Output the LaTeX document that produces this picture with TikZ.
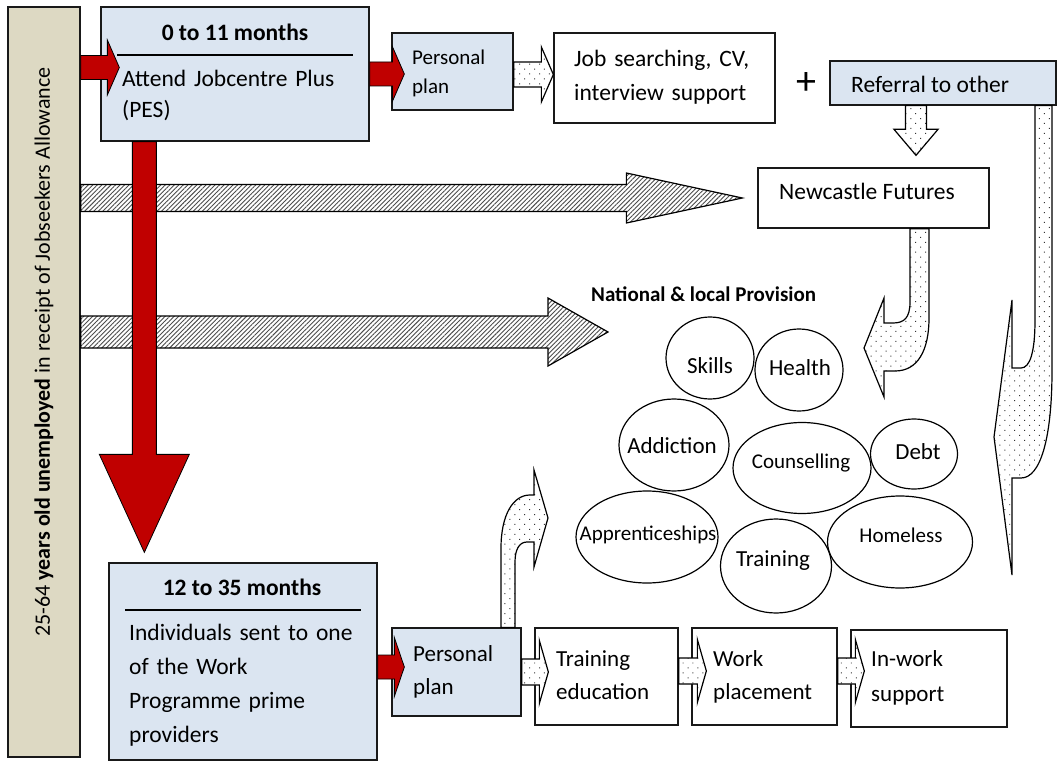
\documentclass[tikz,border=0pt]{standalone}
\usepackage{fontspec}
\setmainfont{Carlito}
\usetikzlibrary{calc,patterns.meta,shapes.geometric}
\definecolor{barfill}{HTML}{DDD9C3}
\definecolor{boxblue}{HTML}{DBE5F1}
\definecolor{arrowred}{HTML}{C00000}
\newcommand{\fsz}[2]{\fontsize{#1}{#2}\selectfont}
% right-pointing block arrow: style, start, tip, shaft half, head half, head length
\newcommand{\blockR}[6]{\path[#1] let \p1=(#2), \p2=(#3) in
  (\x1,\y2+#4) -- (\x2-#6,\y2+#4) -- (\x2-#6,\y2+#5) -- (\x2,\y2) -- (\x2-#6,\y2-#5) -- (\x2-#6,\y2-#4) -- (\x1,\y2-#4) -- cycle;}
% down-pointing block arrow
\newcommand{\blockD}[6]{\path[#1] let \p1=(#2), \p2=(#3) in
  (\x2-#4,\y1) -- (\x2-#4,\y2+#6) -- (\x2-#5,\y2+#6) -- (\x2,\y2) -- (\x2+#5,\y2+#6) -- (\x2+#4,\y2+#6) -- (\x2+#4,\y1) -- cycle;}
\begin{document}
\begin{tikzpicture}[x=1pt,y=-1pt,
  box/.style={draw=black!90, line width=1.3pt, inner sep=0pt, fill=white},
  bluebox/.style={box, fill=boxblue},
  txt/.style={anchor=base west, inner sep=0pt, align=left, font=\fsz{23.5}{34}},
  ttl/.style={anchor=base, inner sep=0pt, font=\fsz{23.5}{28}\bfseries},
  oval/.style={draw=black, ellipse, line width=1.2pt, inner sep=0pt},
  ovaltxt/.style={inner sep=0pt, font=\fsz{23}{26}},
  ovalsmall/.style={inner sep=0pt, font=\fsz{21}{24}},
  hatch/.style={draw=black, line width=1.2pt, preaction={fill=white},
    pattern={Lines[angle=45,distance=3.2pt,line width=0.9pt]}, pattern color=black!70},
  dotarr/.style={draw=black, line width=1.2pt, preaction={fill=white},
    pattern={Dots[distance=7pt,angle=45,radius=0.7pt]}, pattern color=black!80},
  redarr/.style={draw=black, line width=0.8pt, fill=arrowred},
  rule/.style={line width=1.5pt}
]
\useasboundingbox (0,0) rectangle (1062,762);

% left bar
\node[draw=black!90, line width=1.3pt, fill=barfill, minimum width=72pt, minimum height=750pt, inner sep=0pt] (bar) at (44,382) {};
\node[rotate=90, inner sep=0pt, font=\fsz{22}{26}] (bartext) at (44,352) {25-64 \textbf{years old unemployed} in receipt of Jobseekers Allowance};

% top row
\node[bluebox, minimum width=268pt, minimum height=134pt] (box1) at (235,74) {};
\node[ttl] (box1title) at (235,41) {0 to 11 months};
\draw[rule] (117,55) -- (353,55);
\node[txt, text width=240pt, font=\fsz{23.5}{31}] (box1text) at (122,87) {Attend Jobcentre Plus\\(PES)};

\node[bluebox, minimum width=121pt, minimum height=77pt] (pp1) at (452.5,71.5) {};
\node[txt, text width=100pt, font=\fsz{21}{29}] (pp1text) at (412,65) {Personal\\plan};

\node[box, minimum width=221pt, minimum height=90pt] (job) at (664.5,78) {};
\node[txt, text width=200pt] (jobtext) at (574,67) {Job searching, CV,\\interview support};

\node[inner sep=0pt, font=\fsz{40}{44}] (plus) at (806,84) {+};

\node[bluebox, minimum width=226pt, minimum height=44pt] (ref) at (943,83) {};
\node[txt] (reftext) at (851,93) {Referral to other};

\node[box, minimum width=231pt, minimum height=60pt] (nc) at (873.5,198) {};
\node[txt] (nctext) at (779,200) {Newcastle Futures};

\node[txt, font=\fsz{21}{24}\bfseries] (natl) at (591,301) {National \& local Provision};

% bottom row
\node[bluebox, minimum width=268pt, minimum height=197pt] (box2) at (243,661.5) {};
\node[ttl] (box2title) at (242,595) {12 to 35 months};
\draw[rule] (125,610) -- (361,610);
\node[txt, text width=240pt] (box2text) at (129,640) {Individuals sent to one\\of the Work\\Programme prime\\providers};

\node[bluebox, minimum width=129pt, minimum height=88pt] (pp2) at (456.5,672) {};
\node[txt, text width=100pt, font=\fsz{23}{33}] (pp2text) at (413,661) {Personal\\plan};

\node[box, minimum width=143pt, minimum height=97pt] (train) at (606.5,676.5) {};
\node[txt, text width=120pt, font=\fsz{23}{33}] (traintext) at (556,666) {Training\\education};

\node[box, minimum width=145pt, minimum height=97pt] (work) at (764.5,676.5) {};
\node[txt, text width=120pt, font=\fsz{23}{33}] (worktext) at (713,666) {Work\\placement};

\node[box, minimum width=156pt, minimum height=97pt] (inwork) at (929,678.5) {};
\node[txt, text width=120pt, font=\fsz{23}{35}] (inworktext) at (871,666) {In-work\\support};

% provision ovals
\node[oval, minimum width=88pt, minimum height=82pt] (skills) at (710,358) {};
\node[ovaltxt] (skillst) at (710,366) {Skills};
\node[oval, minimum width=88pt, minimum height=82pt] (health) at (799,370) {};
\node[ovaltxt] (healtht) at (800,368) {Health};
\node[oval, minimum width=110pt, minimum height=92pt] (addiction) at (674,445) {};
\node[ovaltxt] (addictiont) at (672,446) {Addiction};
\node[oval, minimum width=138pt, minimum height=91pt] (counsel) at (802,468) {};
\node[ovalsmall] (counselt) at (801,463) {Counselling};
\node[oval, minimum width=87pt, minimum height=70pt] (debt) at (914,454) {};
\node[ovaltxt] (debtt) at (918,452) {Debt};
\node[oval, minimum width=142pt, minimum height=92pt] (appr) at (647,537) {};
\node[ovalsmall] (apprt) at (648,535) {Apprenticeships};
\node[oval, minimum width=111pt, minimum height=94pt] (trainov) at (776,566) {};
\node[ovaltxt] (trainovt) at (773,561) {Training};
\node[oval, minimum width=145pt, minimum height=92pt] (homeless) at (900,542) {};
\node[ovalsmall] (homelesst) at (901,535) {Homeless};

\coordinate (provtip) at (608,332);

% hatched arrows
\blockR{hatch}{bar.east |- nc.west}{$(nc.west)+(-15,0)$}{13.5pt}{25pt}{116pt}
\blockR{hatch}{bar.east |- provtip}{provtip}{16pt}{34pt}{60pt}

% red arrows
\blockD{redarr}{box1.south}{$(box2.north west)+(36,-10)$}{12pt}{45pt}{98pt}
\blockR{redarr}{bar.east}{$(box1.west)+(19,-6.5)$}{12pt}{27.5pt}{12pt}
\blockR{redarr}{box1.east}{$(pp1.west)+(13,2.5)$}{12pt}{27.5pt}{12pt}
\blockR{redarr}{box2.east}{$(pp2.west)+(13,-5)$}{12pt}{29.5pt}{10pt}

% dotted arrows
\blockR{dotarr}{pp1.east}{$(job.west)+(0,-3.5)$}{12.5pt}{27.5pt}{12pt}
\blockD{dotarr}{ref.south}{$(nc.north)+(42.5,-12)$}{10.5pt}{22pt}{26pt}
\blockR{dotarr}{pp2.east}{$(train.west)+(14,-4.5)$}{13pt}{31.5pt}{9pt}
\blockR{dotarr}{train.east}{$(work.west)+(15,-5.5)$}{13pt}{31.5pt}{9pt}
\blockR{dotarr}{work.east}{$(inwork.west)+(14,-7.5)$}{13pt}{31.5pt}{9pt}

% curved dotted arrows
\path[dotarr] (nc.south -| 910,0) -- (910,302) .. controls (910,318) and (904,323) .. (893,323) -- (884,323) -- (884,298) -- (864,348) -- (884,397) -- (884,371) -- (895,371) .. controls (918,371) and (929,350) .. (929,318) -- (nc.south -| 929,0) -- cycle;
\path[dotarr] (ref.south -| 1035,0) -- (1035,320) .. controls (1035,352) and (1030,368) .. (1021,368) -- (1012,368) -- (1012,300) -- (994,437) -- (1012,575) -- (1012,478) -- (1021,478) .. controls (1040,478) and (1052,440) .. (1052,370) -- (ref.south -| 1052,0) -- cycle;
\path[dotarr] (pp2.north -| 501,0) -- (501,548) .. controls (501,515) and (513,495) .. (530,495) -- (534,495) -- (534,470) -- (548,518) -- (534,567) -- (534,542) -- (527,542) .. controls (519,542) and (515,550) .. (515,562) -- (pp2.north -| 515,0) -- cycle;
\end{tikzpicture}
\end{document}
